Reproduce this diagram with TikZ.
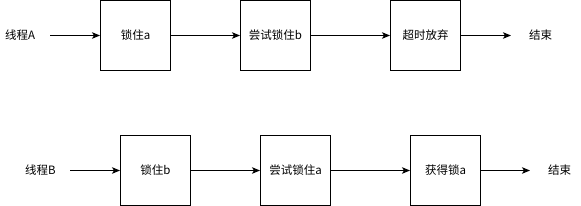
\documentclass[tikz,border=0pt]{standalone}
\usepackage{fontspec}
\setmainfont{Liberation Sans}
\newfontfamily\cjk{Noto Sans CJK SC}
\usetikzlibrary{arrows.meta}
\begin{document}
\begin{tikzpicture}[x=1pt,y=-1pt,
  box/.style={draw,line width=1pt,minimum width=70pt,minimum height=70pt,inner sep=0pt,font=\cjk\fontsize{11.5}{13}\selectfont},
  lbl/.style={inner sep=0pt,font=\cjk\fontsize{11.5}{13}\selectfont},
  arr/.style={line width=1pt,-{Stealth[length=8pt,width=6.5pt,inset=2pt]}}]
\useasboundingbox (0,0) rectangle (581,206);
% Row A
\node[lbl,anchor=west] (ta) at (5,35) {线程A};
\coordinate (ta1) at (50,35.5);
\node[box] (a1) at (135.5,35.5) {锁住a};
\node[box] (a2) at (275.5,35.5) {尝试锁住b};
\node[box] (a3) at (425.5,35.5) {超时放弃};
\coordinate (ae) at (511,35.5);
\node[lbl,anchor=west] (enda) at (529,35) {结束};
\draw[arr] (ta1) -- (a1.west);
\draw[arr] (a1) -- (a2);
\draw[arr] (a2) -- (a3);
\draw[arr] (a3) -- (ae);
% Row B
\node[lbl,anchor=west] (tb) at (25,170) {线程B};
\coordinate (tb1) at (70,170.5);
\node[box] (b1) at (155.5,170.5) {锁住b};
\node[box] (b2) at (295.5,170.5) {尝试锁住a};
\node[box] (b3) at (445.5,170.5) {获得锁a};
\coordinate (be) at (530,170.5);
\node[lbl,anchor=west] (endb) at (548,170) {结束};
\draw[arr] (tb1) -- (b1.west);
\draw[arr] (b1) -- (b2);
\draw[arr] (b2) -- (b3);
\draw[arr] (b3) -- (be);
\end{tikzpicture}
\end{document}
